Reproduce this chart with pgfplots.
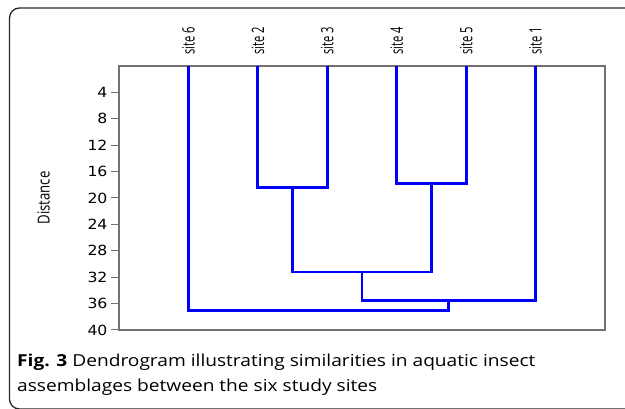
\documentclass[border=0pt]{standalone}
\usepackage{fontspec}
\setmainfont{Open Sans}
\newfontfamily\capf[FakeStretch=1.16]{Open Sans}
\newfontfamily\condf[FakeStretch=0.66]{Open Sans}
\newfontfamily\labf[FakeStretch=0.8]{Open Sans}
\newfontfamily\tickf[FakeStretch=1.12]{DejaVu Sans}
\usepackage{pgfplots}
\pgfplotsset{compat=1.18}
\tikzset{dend/.style={draw=blue, line width=2.8pt, mark=none, sharp plot}}
\begin{document}
\begin{tikzpicture}
\useasboundingbox (0pt,0pt) rectangle (625pt,409pt);
\draw[line width=1.3pt, black!85, rounded corners=10pt] (9.5pt,0pt) rectangle (650pt,401pt);
\begin{axis}[at={(362pt,211pt)}, anchor=center, scale only axis,
  width=486pt, height=264pt,
  xmin=0, xmax=7, ymin=0, ymax=40, y dir=reverse,
  axis line style={draw=gray!90!black, line width=1.3pt},
  xtick={1,...,6}, xticklabels={site 6,site 2,site 3,site 4,site 5,site 1},
  xticklabel pos=right,
  x tick label style={rotate=90, anchor=west, font=\condf\fontsize{17}{17}\selectfont},
  xtick style={draw=none},
  ytick={4,8,...,40}, ytick pos=left,
  y tick label style={font=\tickf\fontsize{14}{14}\selectfont},
  ytick style={draw=gray!90!black, line width=1pt},
  major tick length=8pt, tick align=outside,
  ylabel={Distance},
  every axis y label/.style={at={(axis description cs:-0.155,0.5)}, rotate=90, anchor=center, font=\labf\fontsize{16.5}{16.5}\selectfont},
  /pgf/number format/assume math mode=true,
]
\addplot[dend] coordinates {(2,0) (2,18.45) (3,18.45) (3,0)};
\addplot[dend] coordinates {(4,0) (4,17.8) (5,17.8) (5,0)};
\addplot[dend] coordinates {(2.5,18.45) (2.5,31.2) (4.5,31.2) (4.5,17.8)};
\addplot[dend] coordinates {(3.5,31.2) (3.5,35.5) (6,35.5) (6,0)};
\addplot[dend] coordinates {(1,0) (1,37.1) (4.75,37.1) (4.75,35.5)};
\end{axis}
\node[anchor=base west, inner sep=0pt, font=\capf\fontsize{16.5}{16.5}\selectfont] at (17pt,42pt) {\textbf{Fig. 3} Dendrogram illustrating similarities in aquatic insect};
\node[anchor=base west, inner sep=0pt, font=\capf\fontsize{16.5}{16.5}\selectfont] at (17pt,17pt) {assemblages between the six study sites};
\end{tikzpicture}
\end{document}
